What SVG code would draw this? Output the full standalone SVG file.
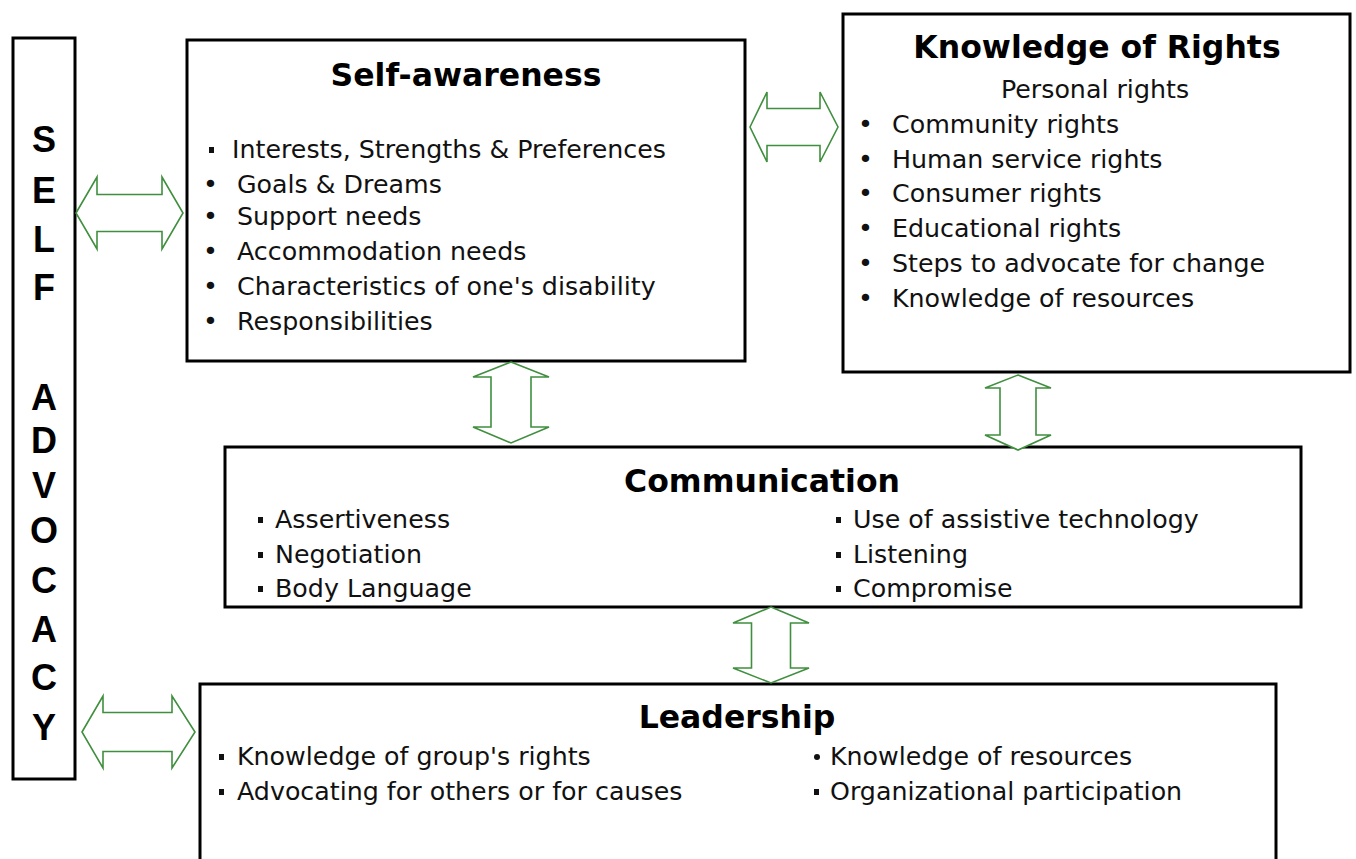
<svg xmlns="http://www.w3.org/2000/svg" width="1356" height="859" viewBox="0 0 1356 859">
<style>
.box{fill:#fff;stroke:#000;stroke-width:3}
.arr{fill:#fff;stroke:#3f8f3f;stroke-width:1.6;stroke-linejoin:miter}
.t{font-family:"DejaVu Sans",Verdana,sans-serif;font-size:25.3px;fill:#111}
.h{font-family:"DejaVu Sans",Verdana,sans-serif;font-size:31.5px;font-weight:bold;fill:#000;text-anchor:middle}
.v{font-family:"Liberation Sans",Arial,sans-serif;font-size:36px;font-weight:bold;fill:#000;text-anchor:middle}
.sq{fill:#111}
</style>
<rect width="1356" height="859" fill="#fff"/>
<g id="self-advocacy">
<rect class="box" x="13" y="38" width="62" height="741"/>
<text class="v" x="44" y="152">S</text>
<text class="v" x="44" y="203">E</text>
<text class="v" x="44" y="252">L</text>
<text class="v" x="44" y="300">F</text>
<text class="v" x="44" y="410">A</text>
<text class="v" x="44" y="453">D</text>
<text class="v" x="44" y="498">V</text>
<text class="v" x="44" y="543">O</text>
<text class="v" x="44" y="593">C</text>
<text class="v" x="44" y="642">A</text>
<text class="v" x="44" y="690">C</text>
<text class="v" x="44" y="740">Y</text>
</g>
<g id="self-awareness">
<rect class="box" x="187" y="40" width="558" height="321"/>
<text class="h" x="466" y="86">Self-awareness</text>
<rect class="sq" x="209" y="147" width="5" height="6"/>
<text class="t" x="232" y="158">Interests, Strengths &amp; Preferences</text>
<text class="t" x="203" y="193">•</text><text class="t" x="237" y="193">Goals &amp; Dreams</text>
<text class="t" x="203" y="225">•</text><text class="t" x="237" y="225">Support needs</text>
<text class="t" x="203" y="260">•</text><text class="t" x="237" y="260">Accommodation needs</text>
<text class="t" x="203" y="295">•</text><text class="t" x="237" y="295">Characteristics of one's disability</text>
<text class="t" x="203" y="330">•</text><text class="t" x="237" y="330">Responsibilities</text>
</g>
<g id="knowledge-of-rights">
<rect class="box" x="843" y="14" width="507" height="358"/>
<text class="h" x="1097" y="58">Knowledge of Rights</text>
<text class="t" x="1095" y="98" text-anchor="middle">Personal rights</text>
<text class="t" x="858" y="133">•</text><text class="t" x="892" y="133">Community rights</text>
<text class="t" x="858" y="168">•</text><text class="t" x="892" y="168">Human service rights</text>
<text class="t" x="858" y="202">•</text><text class="t" x="892" y="202">Consumer rights</text>
<text class="t" x="858" y="237">•</text><text class="t" x="892" y="237">Educational rights</text>
<text class="t" x="858" y="272">•</text><text class="t" x="892" y="272">Steps to advocate for change</text>
<text class="t" x="858" y="307">•</text><text class="t" x="892" y="307">Knowledge of resources</text>
</g>
<g id="communication">
<rect class="box" x="225" y="447" width="1076" height="160"/>
<text class="h" x="762" y="492">Communication</text>
<rect class="sq" x="258" y="517" width="5" height="6"/>
<text class="t" x="275" y="528">Assertiveness</text>
<rect class="sq" x="258" y="552" width="5" height="6"/>
<text class="t" x="275" y="563">Negotiation</text>
<rect class="sq" x="258" y="586" width="5" height="6"/>
<text class="t" x="275" y="597">Body Language</text>
<rect class="sq" x="836" y="517" width="5" height="6"/>
<text class="t" x="853" y="528">Use of assistive technology</text>
<rect class="sq" x="836" y="552" width="5" height="6"/>
<text class="t" x="853" y="563">Listening</text>
<rect class="sq" x="836" y="586" width="5" height="6"/>
<text class="t" x="853" y="597">Compromise</text>
</g>
<g id="leadership">
<rect class="box" x="200" y="684" width="1076" height="190"/>
<text class="h" x="737" y="728">Leadership</text>
<rect class="sq" x="219" y="754" width="5" height="6"/>
<text class="t" x="237" y="765">Knowledge of group's rights</text>
<rect class="sq" x="219" y="789" width="5" height="6"/>
<text class="t" x="237" y="800">Advocating for others or for causes</text>
<circle class="sq" cx="817" cy="757" r="3"/>
<text class="t" x="830" y="765">Knowledge of resources</text>
<rect class="sq" x="814" y="789" width="5" height="6"/>
<text class="t" x="830" y="800">Organizational participation</text>
</g>
<g id="connectors">
<path class="arr" d="M76,213 L97,177 L97,194.5 L162,194.5 L162,177 L183,213 L162,249 L162,231.5 L97,231.5 L97,249 Z"/>
<path class="arr" d="M750,127 L767,92 L767,108.5 L820,108.5 L820,92 L838,127 L820,162 L820,145.5 L767,145.5 L767,162 Z"/>
<path class="arr" d="M82,732 L103,696 L103,712.5 L172,712.5 L172,696 L195,732 L172,768 L172,751.5 L103,751.5 L103,768 Z"/>
<path class="arr" d="M511,362 L549,377 L531,377 L531,427 L549,427 L511,443 L473,427 L491,427 L491,377 L473,377 Z"/>
<path class="arr" d="M1018,375 L1051,388 L1036,388 L1036,435 L1051,435 L1018,450 L985,435 L1000,435 L1000,388 L985,388 Z"/>
<path class="arr" d="M771,607 L809,623 L790.5,623 L790.5,668 L809,668 L771,683 L733,668 L751.5,668 L751.5,623 L733,623 Z"/>
</g>
</svg>
